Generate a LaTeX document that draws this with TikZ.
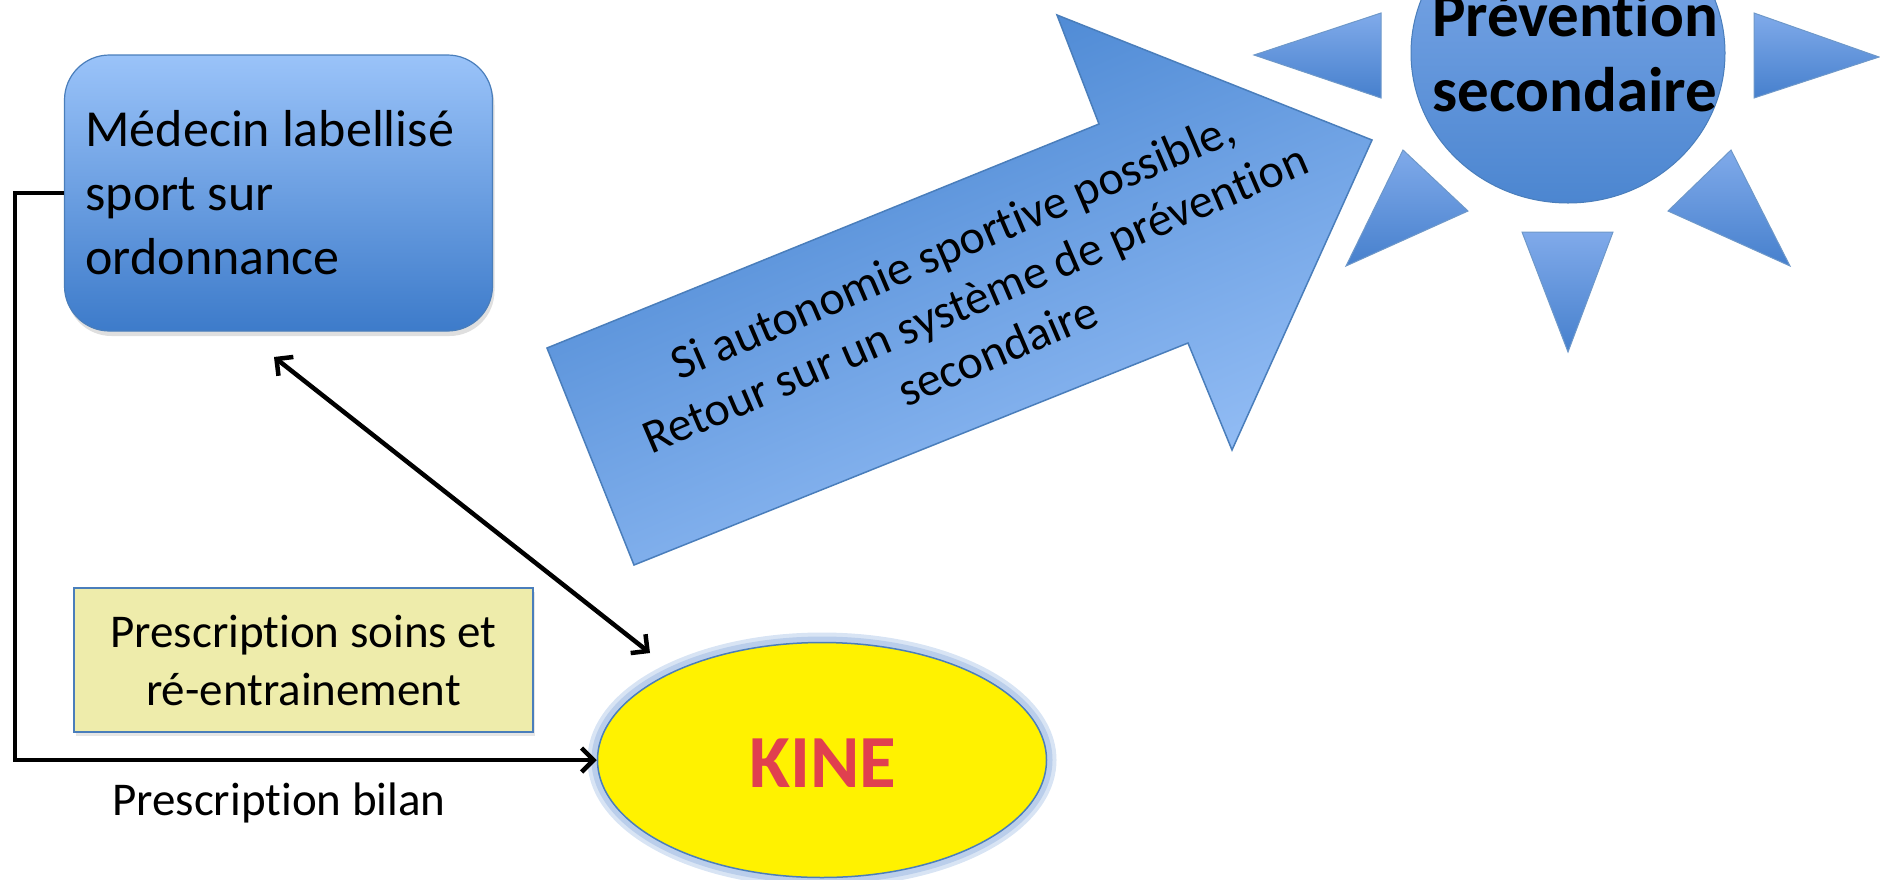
\documentclass[tikz,border=0pt]{standalone}
\usepackage{fontspec}
\setmainfont{Carlito}[Ligatures=NoCommon]
\usetikzlibrary{arrows.meta,shapes.geometric,shadows}
\definecolor{boxtop}{HTML}{9AC3F9}
\definecolor{boxbot}{HTML}{3D7BCA}
\definecolor{edgeblue}{HTML}{4A7EBB}
\definecolor{arrdark}{HTML}{4281CF}
\definecolor{arrlight}{HTML}{9AC2F8}
\definecolor{tritop}{HTML}{80AAEA}
\definecolor{tribot}{HTML}{4680CD}
\definecolor{suntop}{HTML}{7FAAE9}
\definecolor{sunbot}{HTML}{4C86D0}
\definecolor{khaki}{HTML}{EEECAB}
\definecolor{glow}{HTML}{A9C2E6}
\definecolor{kinered}{HTML}{E0404F}
\begin{document}
\begin{tikzpicture}[x=1pt,y=-1pt,
  conn/.style={line width=4.5pt, black},
  tri/.style={shade, top color=tritop, bottom color=tribot, draw=edgeblue!80, line width=1pt},
  medbox/.style={rectangle, rounded corners=45pt, minimum width=428pt, minimum height=276pt,
    top color=boxtop, bottom color=boxbot, draw=edgeblue, line width=1.2pt,
    drop shadow={shadow xshift=2pt, shadow yshift=-5pt, opacity=0.25},
    text width=386pt, align=left, inner sep=0pt, font=\fontsize{52}{64}\selectfont,
    execute at begin node={\spaceskip=0pt\xspaceskip=0pt\relax}},
  soinbox/.style={rectangle, minimum width=459pt, minimum height=144pt, fill=khaki,
    draw=edgeblue, line width=1.5pt, drop shadow={shadow xshift=2pt, shadow yshift=-4pt, opacity=0.2},
    align=center, font=\fontsize{47}{58}\selectfont},
  kineshape/.style={ellipse, minimum width=449pt, minimum height=235pt, fill=yellow,
    draw=edgeblue, line width=1.5pt,
    preaction={draw=glow!45, line width=20pt},
    preaction={draw=glow!80, line width=12pt}},
  sunshape/.style={ellipse, minimum width=314pt, minimum height=300pt,
    top color=suntop, bottom color=sunbot, draw=edgeblue, line width=1pt}
]
\useasboundingbox (0,0) rectangle (1880,879);
\clip (0,0) rectangle (1880,879);

% big arrow
\shadedraw[top color=arrdark, bottom color=arrlight, shading angle=23, draw=edgeblue, line width=1.5pt]
  (547,348) -- (1099,124) -- (1057,15) -- (1372,140) -- (1232,450) -- (1188,343) -- (634,565) -- cycle;
\node[rotate=23.2, align=center, font=\fontsize{48}{57}\selectfont] (arrtxt) at (975,298)
  {Si autonomie sportive possible,\\Retour sur un système de prévention\\secondaire};

% sun
\shadedraw[tri] (1254,55) -- (1381,13) -- (1381,98) -- cycle;
\shadedraw[tri] (1754,13) -- (1879,57) -- (1754,98) -- cycle;
\shadedraw[tri] (1403,150) -- (1468,211) -- (1346,266) -- cycle;
\shadedraw[tri] (1731,150) -- (1790,266) -- (1668,211) -- cycle;
\shadedraw[tri] (1522,232) -- (1613,232) -- (1568,352) -- cycle;
\node[sunshape] (sun) at (1568,53) {};
\node[align=center, font=\bfseries\fontsize{63}{75}\selectfont] (prev) at (1575,52)
  {Prévention\\secondaire};

% medecin
\node[medbox] (med) at (278.5,193) {Médecin labellisé\\sport sur\\ordonnance};

% soins box
\node[soinbox] (soins) at (303.5,660) {Prescription soins et\\ré-entrainement};

% kine
\node[kineshape] (kine) at (822,760) {};
\node[font=\bfseries\fontsize{75}{80}\selectfont, text=kinered] (kinetxt) at (823,763) {KINE};

% bilan label
\node[anchor=base west, font=\fontsize{47}{57}\selectfont, inner sep=0pt] (bilan) at (112,815) {Prescription bilan};

% connectors
\coordinate (corner) at (15,193);
\draw[conn, -{Straight Barb[length=12pt,width=24pt]}] (med.west) -- (corner) |- (kine.west);
\coordinate (dA) at (274,357);
\coordinate (dB) at (650,653);
\draw[conn, {Straight Barb[length=12pt,width=24pt]}-{Straight Barb[length=12pt,width=24pt]}] (dA) -- (dB);
\end{tikzpicture}
\end{document}
